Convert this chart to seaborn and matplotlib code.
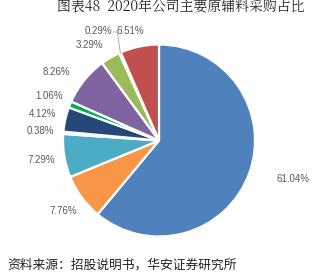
import matplotlib
matplotlib.use("Agg")
import matplotlib.pyplot as plt
import seaborn as sns
import numpy as np

# Data
labels = ["61.04%", "7.76%", "7.29%", "0.38%", "4.12%", "1.06%", "8.26%", "3.29%", "0.29%", "6.51%"]
values = [61.04, 7.76, 7.29, 0.38, 4.12, 1.06, 8.26, 3.29, 0.29, 6.51]
colors = ["#4F81BD", "#F79646", "#4BACC6", "#FFC000", "#254878", "#00B050",
          "#8064A2", "#9BBB59", "#D9D9D9", "#C0504D"]
title = "图表48  2020年公司主要原辅料采购占比"
source = "资料来源：招股说明书，华安证券研究所"

sns.set_theme(style="white")
plt.rcParams['font.family'] = ['Noto Sans CJK SC', 'DejaVu Sans']

fig = plt.figure(figsize=(3.21, 2.78), dpi=100)
ax = fig.add_axes([0, 0, 1, 1])
wedges, texts = ax.pie(values, colors=sns.color_palette(colors), startangle=90,
                       counterclock=False, radius=1.0, labels=labels,
                       labeldistance=1.24,
                       wedgeprops=dict(edgecolor="white", linewidth=1.6),
                       textprops=dict(color="#595959", fontsize=7,
                                      family="Liberation Sans"))
for t in texts:
    t.set_ha("center")
    t.set_va("center")

# manual label adjustments for crowded / Excel-style placement
px = 96.0
def to_data(x, y):
    return ((x - 159) / px, (140.5 - y) / px)

texts[0].set_position(to_data(293, 179))
texts[8].set_position(to_data(98, 31))
texts[9].set_position(to_data(130, 31))
texts[7].set_position(to_data(89, 45))
texts[6].set_position(to_data(56, 72))

# leader line
w = wedges[8]
ang = np.deg2rad((w.theta1 + w.theta2) / 2)
ex, ey = np.cos(ang), np.sin(ang)
x0, y0 = to_data(113, 32)
x1, y1 = to_data(117.5, 32)
ax.plot([x0, x1, x1, ex * 0.99], [y0, y1, y1, ey * 0.99], color="#A6A6A6", lw=0.6)

ax.set_xlim(-159 / px, (321 - 159) / px)
ax.set_ylim((140.5 - 278) / px, 140.5 / px)
ax.set_aspect("equal")
ax.axis("off")

fig.text(181 / 321, 1 - 7 / 278, title, ha="center", va="center", fontsize=10,
         color="#222222", family=['Noto Serif CJK SC', 'Noto Sans CJK SC', 'DejaVu Sans'])
fig.text(7 / 321, 1 - 265 / 278, source, ha="left", va="center", fontsize=9.2,
         color="#222222")

fig.savefig("out.png", dpi=100)
